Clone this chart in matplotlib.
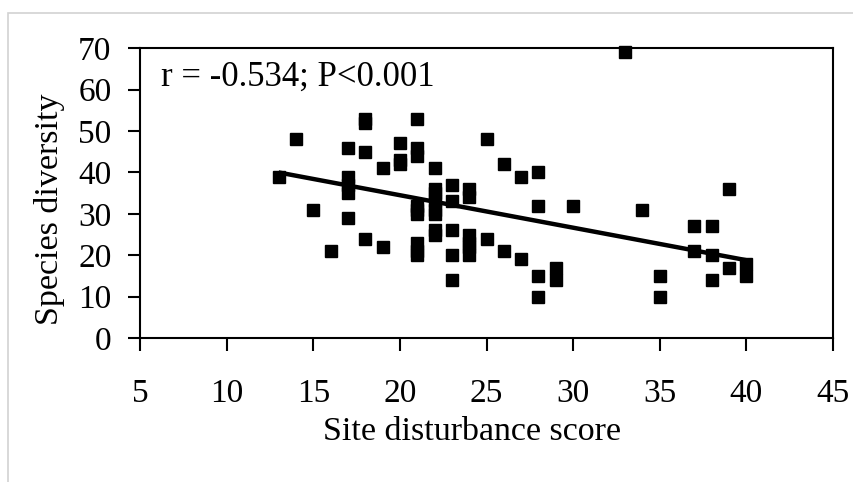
import matplotlib
matplotlib.use("Agg")
import matplotlib.pyplot as plt
from matplotlib.patches import Rectangle

# Site disturbance score (x) and species diversity (y)
disturbance = [13, 14, 15, 16, 17, 17, 17, 17, 17,
               18, 18, 18, 18, 19, 19, 20, 20, 20,
               21, 21, 21, 21, 21, 21, 21, 21, 21,
               22, 22, 22, 22, 22, 22, 22, 22,
               23, 23, 23, 23, 23,
               24, 24, 24, 24, 24, 24,
               25, 25, 26, 26, 27, 27, 28, 28, 28, 28,
               29, 29, 30, 33, 34, 35, 35,
               37, 37, 38, 38, 38, 39, 39, 40, 40]
diversity = [39, 48, 31, 21, 46, 39, 37, 35, 29,
             53, 52, 45, 24, 41, 22, 47, 43, 42,
             53, 46, 44, 32, 31, 30, 23, 21, 20,
             41, 36, 35, 33, 31, 30, 26, 25,
             37, 33, 26, 20, 14,
             36, 34, 25, 23, 22, 20,
             48, 24, 42, 21, 39, 19, 40, 32, 15, 10,
             17, 14, 32, 69, 31, 15, 10,
             27, 21, 27, 20, 14, 36, 17, 18, 15]

# regression line end points
fit_x = [13, 40]
fit_y = [40.0, 18.8]

x_ticks = [5, 10, 15, 20, 25, 30, 35, 40, 45]
y_ticks = [0, 10, 20, 30, 40, 50, 60, 70]

stats_text = "r = -0.534; P<0.001"

plt.rcParams['font.family'] = ['Liberation Serif', 'DejaVu Serif']

fig = plt.figure(figsize=(8.54, 4.82), dpi=100)
ax = fig.add_axes([140 / 854, 1 - 338 / 482, 693 / 854, 289.7 / 482])

# light grey frame around the picture
fig.patches.append(Rectangle((8 / 854, -0.1), 1.2, 1.1 - 13 / 482,
                             transform=fig.transFigure, fill=False,
                             edgecolor='#d2d2d2', linewidth=1.2))

ax.plot(fit_x, fit_y, color='black', linewidth=3.2, solid_capstyle='butt', zorder=2)
ax.plot(disturbance, diversity, linestyle='none', marker='s', markersize=8.5,
        color='black', markeredgewidth=1, clip_on=False, zorder=3)

ax.set_xlim(5, 45)
ax.set_ylim(0, 70)
ax.set_xticks(x_ticks)
ax.set_yticks(y_ticks)

for side in ['left', 'right', 'top', 'bottom']:
    ax.spines[side].set_linewidth(1.5)

ax.tick_params(axis='x', direction='out', length=9.5, width=1.5, pad=20, labelsize=24)
ax.tick_params(axis='y', direction='out', length=8.5, width=1.5, pad=12, labelsize=24)

ax.set_xlabel("Site disturbance score", fontsize=24.5, va='center')
ax.xaxis.set_label_coords(0.479, -0.324)
ax.set_ylabel("Species diversity", fontsize=24.5, va='center')
ax.yaxis.set_label_coords(-0.131, 0.445)

ax.text(0.03, 0.9, stats_text, transform=ax.transAxes, fontsize=25,
        ha='left', va='center')

fig.savefig("out.png", dpi=100)
